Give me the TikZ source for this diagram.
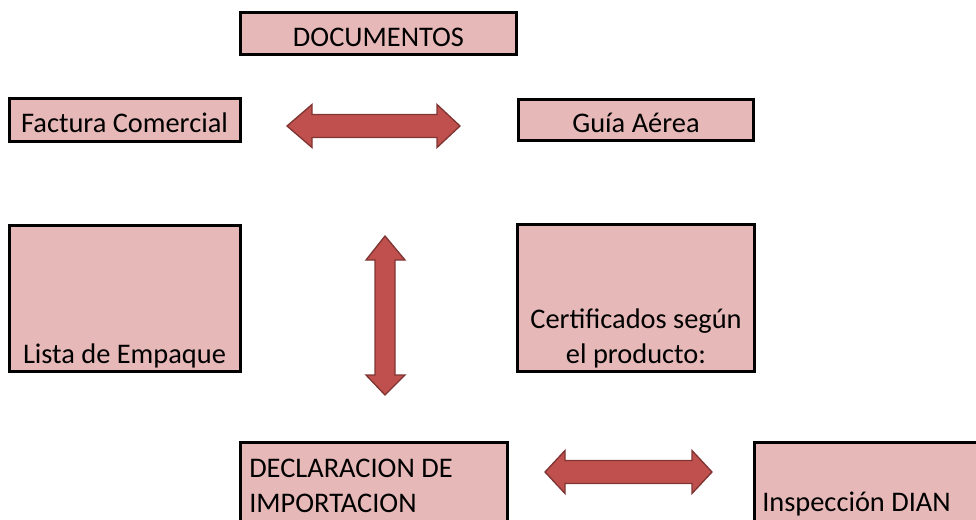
\documentclass[tikz,border=0pt]{standalone}
\usepackage{fontspec}
\setmainfont{Carlito}
\usetikzlibrary{fit}
\definecolor{boxfill}{HTML}{E6B8B7}
\definecolor{arrfill}{HTML}{C0504D}
\definecolor{arrline}{HTML}{7F3533}
\begin{document}
\begin{tikzpicture}[x=0.75pt,y=-0.75pt,
  box/.style={draw=black, line width=2.2pt, fill=boxfill, rectangle, inner sep=0pt},
  lbl/.style={font=\fontsize{21.3}{25.9}\selectfont, inner sep=0pt, anchor=base, align=center},
  lbll/.style={font=\fontsize{21.3}{25.9}\selectfont, inner sep=0pt, anchor=base west, align=left},
  blockarrow/.style={fill=arrfill, draw=arrline, line width=1pt, line join=miter}]
\useasboundingbox (0,0) rectangle (976,519);

% boxes
\node[box, fit={(240.5,12.5) (516.5,54.5)}] (doc) {};
\node[box, fit={(9.5,98.5) (240.5,141.5)}] (fact) {};
\node[box, fit={(518.5,99.5) (753.5,140.5)}] (guia) {};
\node[box, fit={(9.5,225.5) (240.5,371.5)}] (lista) {};
\node[box, fit={(517.5,224.5) (754.5,371.5)}] (cert) {};
\node[box, fit={(240.5,442.5) (507.5,540)}] (decl) {};
\node[box, fit={(754.5,442.5) (1000,540)}] (insp) {};

% texts
\node[lbl] (tdoc) at (378.5,46) {DOCUMENTOS};
\node[lbl] (tfact) at (124.5,132.5) {Factura Comercial};
\node[lbl] (tguia) at (636,132.5) {Guía Aérea};
\node[lbl] (tlista) at (124.5,363) {Lista de Empaque};
\node[lbl] (tcert) at (636,363) {Certificados según\\el producto:};
\node[lbll] (tdecl) at (249,512) {DECLARACION DE\\IMPORTACION};
\node[lbll] (tinsp) at (762,511.5) {Inspección DIAN};

% block arrows
\draw[blockarrow] (287,126) -- (312,104.5) -- (312,114.5) -- (437,114.5) -- (437,104.5)
  -- (460,126) -- (437,147.5) -- (437,137.5) -- (312,137.5) -- (312,147.5) -- cycle;
\draw[blockarrow] (385,236) -- (405,260) -- (395,260) -- (395,375) -- (405,375)
  -- (385,395) -- (366,375) -- (375,375) -- (375,260) -- (366,260) -- cycle;
\draw[blockarrow] (545,472) -- (565,450.5) -- (565,460.5) -- (692,460.5) -- (692,450.5)
  -- (712,472) -- (692,493.5) -- (692,483.5) -- (565,483.5) -- (565,493.5) -- cycle;
\end{tikzpicture}
\end{document}
